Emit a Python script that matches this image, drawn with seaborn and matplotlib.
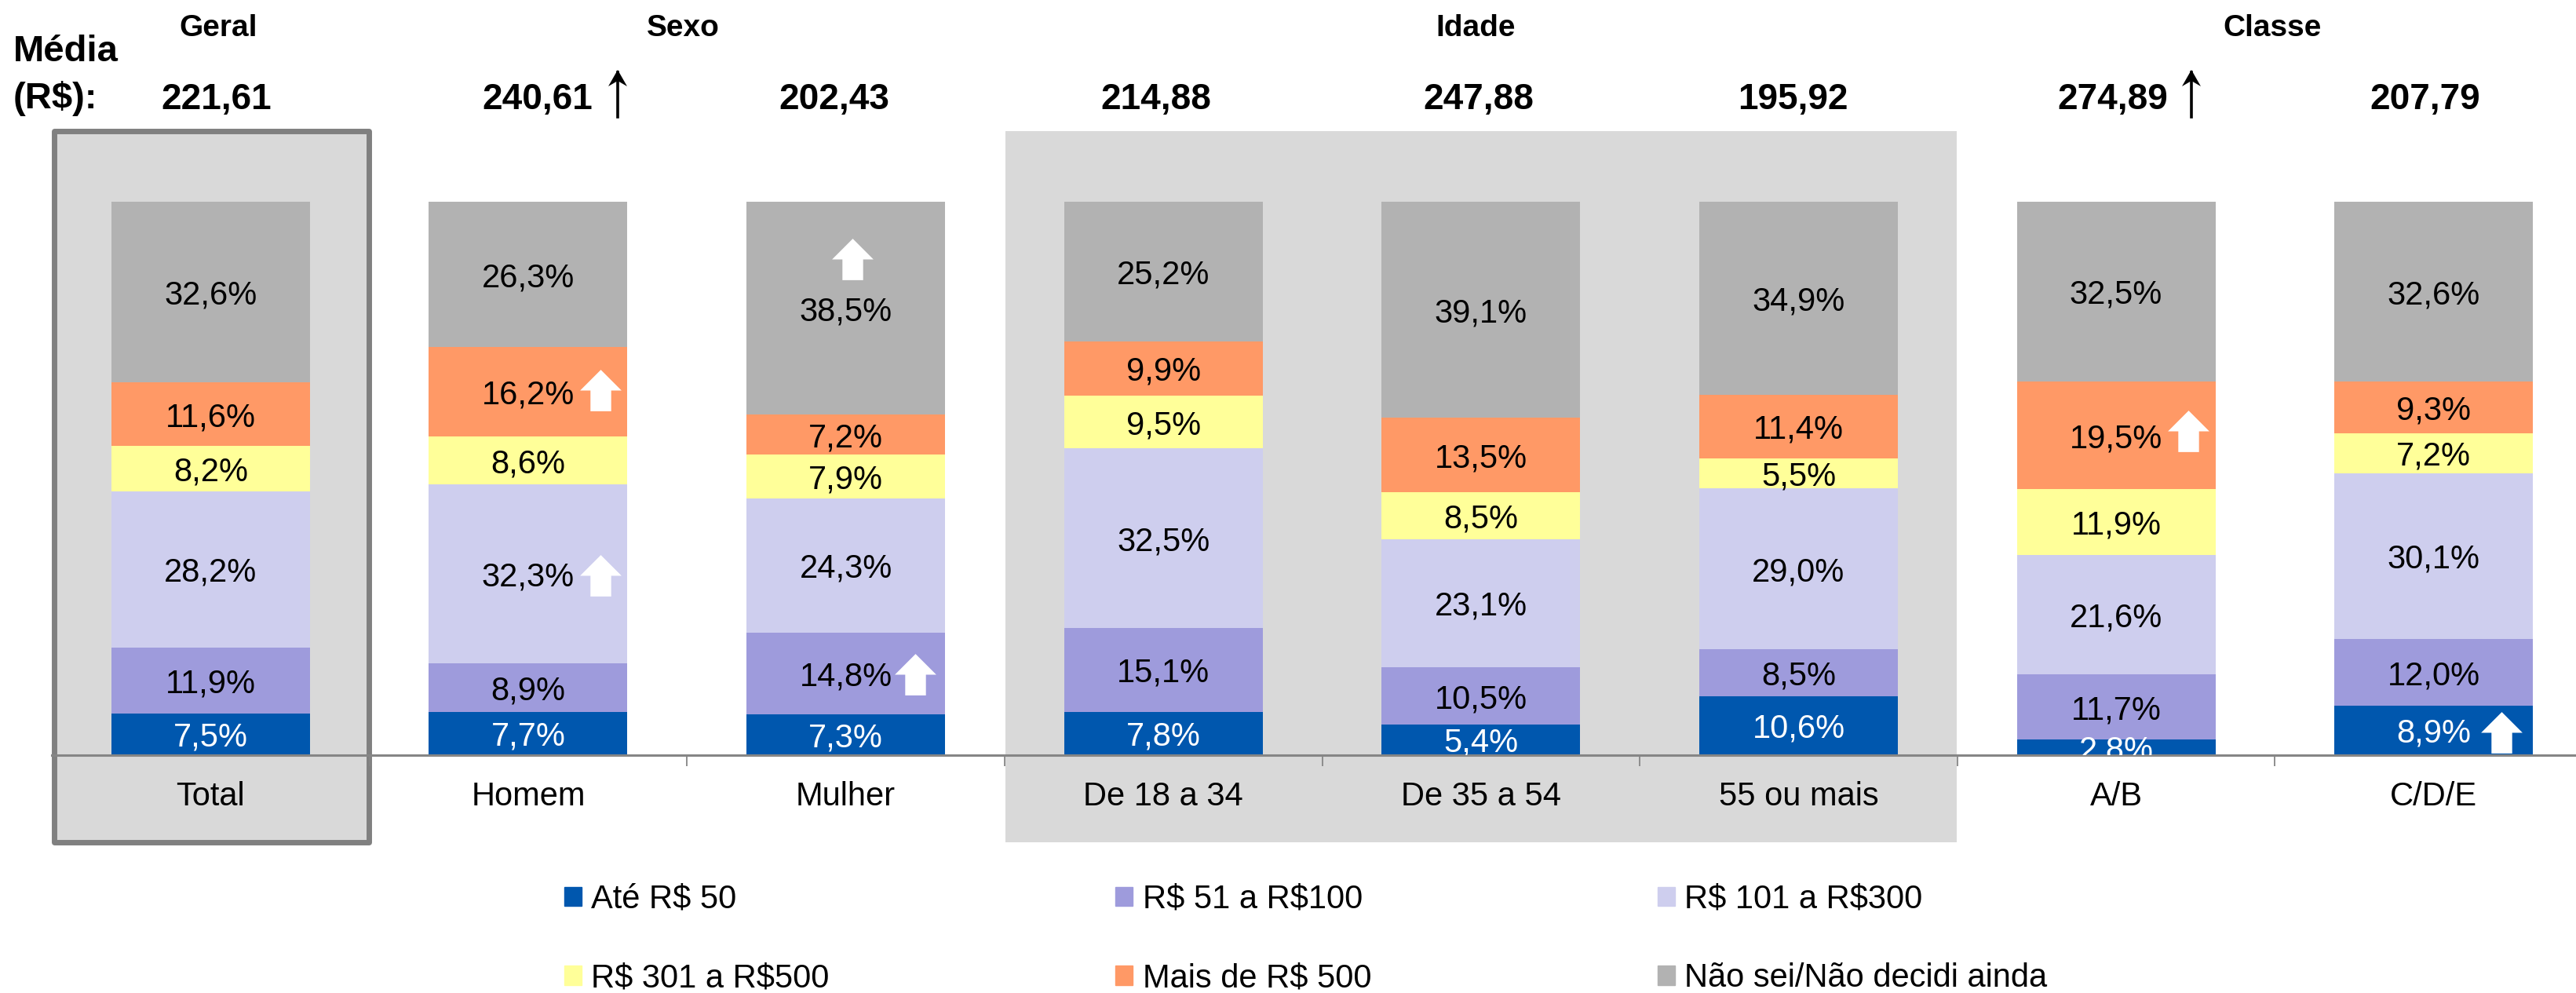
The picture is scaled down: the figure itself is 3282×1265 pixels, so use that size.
#%%
import matplotlib
matplotlib.use('Agg')
import matplotlib.pyplot as plt
from matplotlib.patches import Patch, Rectangle
from matplotlib.path import Path
import numpy as np
import pandas as pd
import seaborn as sbn

W, H = 3282, 1265

categorias = ['Total', 'Homem', 'Mulher', 'De 18 a 34', 'De 35 a 54', '55 ou mais', 'A/B', 'C/D/E']
faixas = ['Até R$ 50', 'R$ 51 a R$100', 'R$ 101 a R$300', 'R$ 301 a R$500', 'Mais de R$ 500', 'Não sei/Não decidi ainda']

ate_50 = [7.5, 7.7, 7.3, 7.8, 5.4, 10.6, 2.8, 8.9]
de_51 = [11.9, 8.9, 14.8, 15.1, 10.5, 8.5, 11.7, 12.0]
de_101 = [28.2, 32.3, 24.3, 32.5, 23.1, 29.0, 21.6, 30.1]
de_301 = [8.2, 8.6, 7.9, 9.5, 8.5, 5.5, 11.9, 7.2]
mais_500 = [11.6, 16.2, 7.2, 9.9, 13.5, 11.4, 19.5, 9.3]
nao_sei = [32.6, 26.3, 38.5, 25.2, 39.1, 34.9, 32.5, 32.6]

medias = ['221,61', '240,61', '202,43', '214,88', '247,88', '195,92', '274,89', '207,79']
medias_x = [276, 685, 1063, 1473, 1884, 2284, 2692, 3090]
grupos = ['Geral', 'Sexo', 'Idade', 'Classe']
grupos_x = [278, 870, 1880, 2895]

cores = ['#0057AE', '#9E9BDC', '#CECEEE', '#FFFF99', '#FF9966', '#B2B2B2']
cores_texto = ['white', 'black', 'black', 'black', 'black', 'black']

# (coluna, y em %, deslocamento x em px) das setas brancas
setas = [(1, 66, 92), (1, 32.5, 92), (2, 89.7, 8), (2, 14.5, 88), (6, 58.5, 92), (7, 4, 86)]

#%%
plt.rcParams['font.family'] = ['Liberation Sans', 'DejaVu Sans']
plt.rcParams['text.parse_math'] = False
fig = plt.figure(figsize=(W / 100, H / 100), dpi=100, facecolor='white')
base, topo = 961.5, 257
esq, dir_ = 66, 3303
ax = fig.add_axes([esq / W, 1 - base / H, (dir_ - esq) / W, (base - topo) / H])
ax.patch.set_alpha(0)


def px(x, y):
    return x / W, 1 - y / H


# fundos cinza atrás do gráfico
fig.patches.append(Rectangle(px(1281, 1073), (2493 - 1281) / W, (1073 - 167) / H, transform=fig.transFigure, fc='#D9D9D9', ec='none', zorder=-2))
fig.patches.append(Rectangle(px(69, 1073), (470 - 69) / W, (1073 - 167) / H, transform=fig.transFigure,
                             fc='#D9D9D9', ec='#808080', lw=5, joinstyle='round', zorder=-1))

series = [ate_50, de_51, de_101, de_301, mais_500, nao_sei]
tabela = pd.DataFrame(dict(zip(faixas, series)), index=categorias)
perc = tabela.div(tabela.sum(axis=1), axis=0) * 100

acum = np.zeros(len(categorias))
for faixa, cor, cor_txt in zip(faixas, cores, cores_texto):
    sbn.barplot(x=categorias, y=perc[faixa].values, bottom=acum, color=cor, saturation=1, width=0.625, ax=ax, errorbar=None)
    for i, v in enumerate(tabela[faixa]):
        ax.text(i, acum[i] + perc[faixa].iloc[i] / 2, f'{v:.1f}%'.replace('.', ','), ha='center', va='center_baseline',
                fontsize=30, color=cor_txt, clip_on=True, zorder=5)
    acum += perc[faixa].values

ax.set_xlim(-0.5, 7.5)
ax.set_ylim(0, 100)
ax.set_ylabel('')
ax.yaxis.set_visible(False)
for lado in ['top', 'left', 'right']:
    ax.spines[lado].set_visible(False)
ax.spines['bottom'].set_color('#868686')
ax.spines['bottom'].set_linewidth(2.2)
ax.set_xticks(np.arange(8))
ax.set_xticklabels(categorias, fontsize=30)
ax.tick_params(axis='x', length=0, pad=24)
ax.set_xticks(np.arange(0.5, 7.5), minor=True)
ax.tick_params(axis='x', which='minor', length=10, width=1.3, color='#868686')

# setas brancas
seta = Path([(-1, 0), (0, 1), (1, 0), (.5, 0), (.5, -1), (-.5, -1), (-.5, 0), (-1, 0)], closed=True)
for col, y, dx in setas:
    xp, yp = ax.transData.transform((col, y))
    fig.add_artist(plt.Line2D([(xp + dx) / W], [yp / H], marker=seta, ms=38, color='white', mew=0, transform=fig.transFigure, zorder=6))

# setas pretas das médias
for x_seta in [787, 2792]:
    fig.add_artist(plt.Line2D([x_seta / W, x_seta / W], [1 - 149 / H, 1 - 92 / H], color='black', lw=2.6, transform=fig.transFigure))
    fig.add_artist(plt.Polygon([px(x_seta - 12, 110), px(x_seta, 89), px(x_seta + 12, 110), px(x_seta, 103)], closed=True, color='black', lw=0, transform=fig.transFigure))

# títulos
for nome, x in zip(grupos, grupos_x):
    fig.text(*px(x, 36), nome, ha='center', va='center', fontsize=28, fontweight='bold')
for m, x in zip(medias, medias_x):
    fig.text(*px(x, 127), m, ha='center', va='center', fontsize=33, fontweight='bold')
fig.text(*px(17, 66), 'Média', ha='left', va='center', fontsize=34, fontweight='bold')
fig.text(*px(17, 126), '(R$):', ha='left', va='center', fontsize=34, fontweight='bold')

# legenda (preenchida por coluna)
ordem = [0, 3, 1, 4, 2, 5]
handles = [Patch(color=cores[i], label=faixas[i]) for i in ordem]
fig.legend(handles=handles, ncols=3, frameon=False, fontsize=30, loc='upper left', bbox_to_anchor=px(702, 1109), borderaxespad=0,
           handlelength=0.53, handleheight=0.53, handletextpad=0.3, labelspacing=1.45, columnspacing=8.75)

plt.savefig('out.png', dpi=100)
